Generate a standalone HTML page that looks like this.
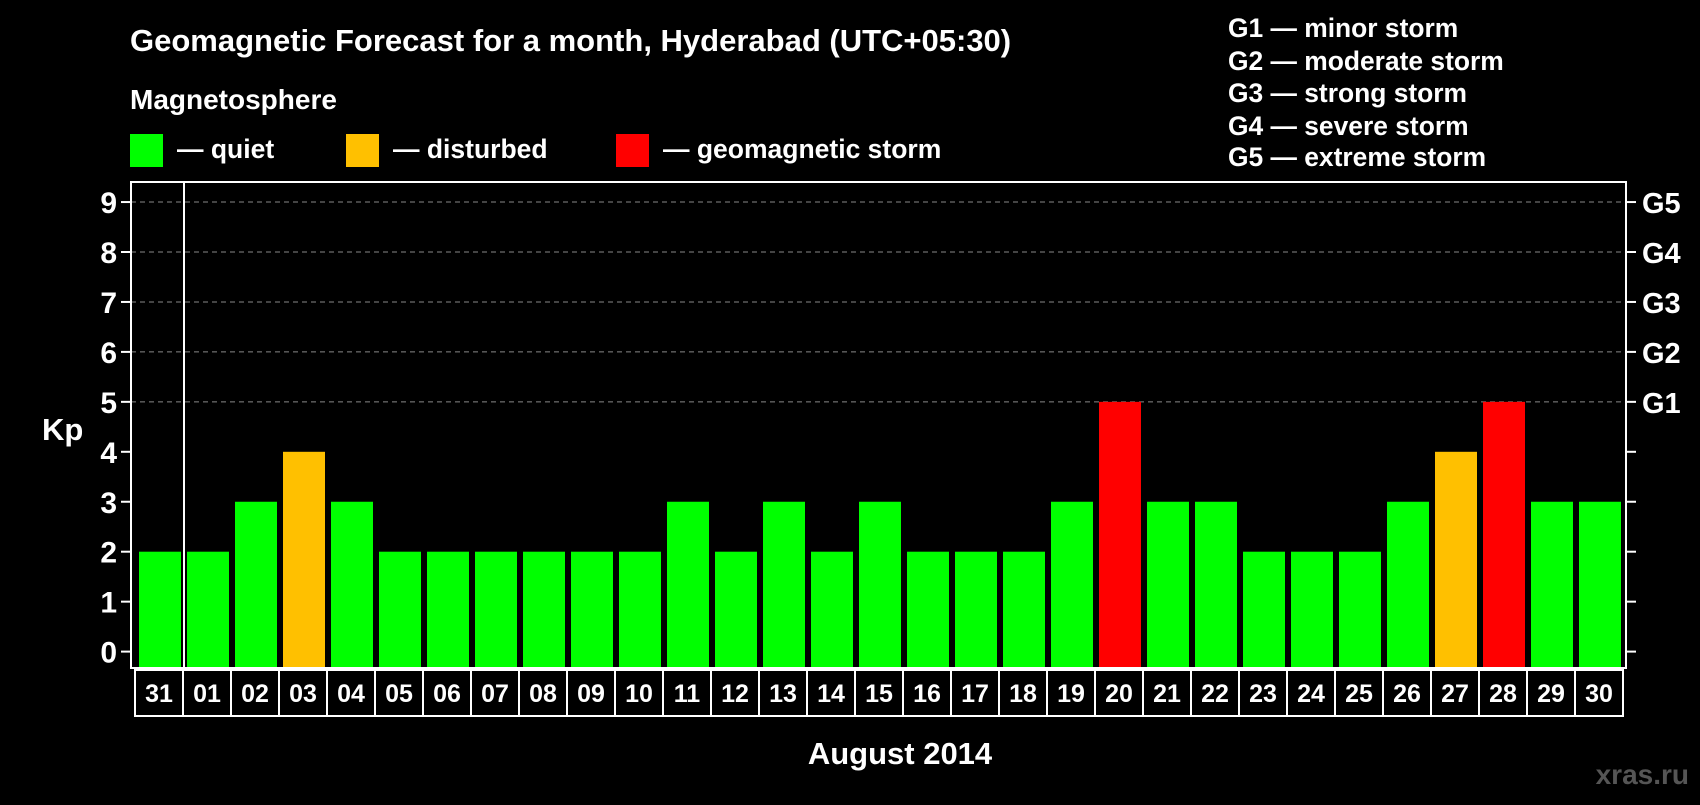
<!DOCTYPE html>
<html><head><meta charset="utf-8"><style>
body{margin:0;background:#000;width:1700px;height:800px;overflow:hidden;font-family:"Liberation Sans",sans-serif;font-weight:bold;color:#fff}
svg text{font-family:"Liberation Sans",sans-serif;font-weight:bold;fill:#fff}
</style></head><body>
<svg id="chart" width="1700" height="800">
<text x="130" y="51" font-size="31">Geomagnetic Forecast for a month, Hyderabad (UTC+05:30)</text>
<text x="130" y="109" font-size="28">Magnetosphere</text>
<rect x="130" y="134" width="33" height="33" fill="#00ff00"/>
<text x="177" y="158" font-size="26.5">— quiet</text>
<rect x="346" y="134" width="33" height="33" fill="#ffc000"/>
<text x="393" y="158" font-size="26.5">— disturbed</text>
<rect x="616" y="134" width="33" height="33" fill="#ff0000"/>
<text x="663" y="158" font-size="26.5">— geomagnetic storm</text>
<g font-size="26.4">
<text x="1228" y="37">G1 — minor storm</text>
<text x="1228" y="70">G2 — moderate storm</text>
<text x="1228" y="102">G3 — strong storm</text>
<text x="1228" y="135">G4 — severe storm</text>
<text x="1228" y="166">G5 — extreme storm</text>
</g>
<text x="42" y="440" font-size="31">Kp</text>
<text x="900" y="764" font-size="31" text-anchor="middle">August 2014</text>
<text x="1689" y="784" font-size="28" style="fill:#555" text-anchor="end">xras.ru</text>
<g id="plot"></g>
</svg>
<script>
const days=["31","01","02","03","04","05","06","07","08","09","10","11","12","13","14","15","16","17","18","19","20","21","22","23","24","25","26","27","28","29","30"];
const kp=[2,2,3,4,3,2,2,2,2,2,2,3,2,3,2,3,2,2,2,3,5,3,3,2,2,2,3,4,5,3,3];
const yTicks=[0,1,2,3,4,5,6,7,8,9];
const gLabels=["G1","G2","G3","G4","G5"];
const NS="http://www.w3.org/2000/svg";
const L=131,R=1626,T=182,B=668,Y0=651.6,UNIT=49.95,X0=135,PITCH=48,BW=42;
const y=v=>Y0-v*UNIT;
const x=i=>X0+i*PITCH;
const g=document.getElementById('plot');
function mk(t,a){const e=document.createElementNS(NS,t);for(const k in a)e.setAttribute(k,a[k]);g.appendChild(e);return e;}
yTicks.forEach(v=>{
  if(v>=5){const l=mk('line',{x1:L,x2:R,y1:y(v),y2:y(v),stroke:'#888','stroke-dasharray':'5,4','stroke-width':1});
  
  }
  const t1=mk('line',{x1:L-10,x2:L,y1:y(v),y2:y(v),stroke:'#fff','stroke-width':2});
  
  
  const t2=mk('line',{x1:R,x2:R+10,y1:y(v),y2:y(v),stroke:'#fff','stroke-width':2});
  
  
  const tx=mk('text',{x:117,y:y(v)+11,'font-size':30,'text-anchor':'end'});tx.textContent=v;
  
  
});
gLabels.forEach((s,i)=>{const t=mk('text',{x:1642,y:y(i+5)+11,'font-size':29});t.textContent=s;
  
  });
const cols={q:'#00ff00',d:'#ffc000',s:'#ff0000'};
kp.forEach((v,i)=>{
  const c=v>=5?cols.s:(v>=4?cols.d:cols.q);
  const r=mk('rect',{x:x(i)+4,y:y(v),width:BW,height:B-y(v),fill:c});
  
  
  const bx=mk('rect',{x:x(i),y:670,width:PITCH,height:46,fill:'none',stroke:'#fff','stroke-width':2});
  
  
  const t=mk('text',{x:x(i)+PITCH/2,y:702,'font-size':25,'text-anchor':'middle'});t.textContent=days[i];
  
  
});
const fr=mk('rect',{x:L,y:T,width:R-L,height:B-T,fill:'none',stroke:'#fff','stroke-width':2});


const dv=mk('line',{x1:x(1)+1,x2:x(1)+1,y1:T,y2:B,stroke:'#fff','stroke-width':2});


</script>
</body></html>
